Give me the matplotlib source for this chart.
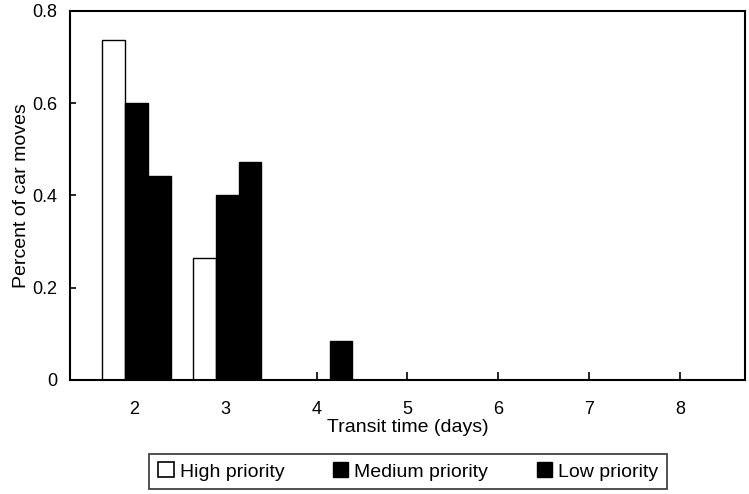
import matplotlib
matplotlib.use("Agg")
import matplotlib.pyplot as plt
import numpy as np
from matplotlib.patches import Patch

plt.rcParams['font.family'] = ['Liberation Sans', 'DejaVu Sans']

days = [2, 3, 4, 5, 6, 7, 8]
high = [0.737, 0.265, 0, 0, 0, 0, 0]
medium = [0.600, 0.400, 0, 0, 0, 0, 0]
low = [0.443, 0.472, 0.085, 0, 0, 0, 0]
yticks = [0, 0.2, 0.4, 0.6, 0.8]
ytick_labels = ["0", "0.2", "0.4", "0.6", "0.8"]
series_names = ["High priority", "Medium priority", "Low priority"]

fig = plt.figure(figsize=(7.49, 4.94), dpi=100)
ax = fig.add_axes([0.0935, 0.2308, 0.901, 0.747])

x = np.array(days, dtype=float) + 0.02
w = 0.25
ax.bar(x - w, high, width=w, color='white', edgecolor='black', linewidth=1.0)
ax.bar(x, medium, width=w, color='black', edgecolor='black', linewidth=1.0)
ax.bar(x + w, low, width=w, color='black', edgecolor='black', linewidth=1.0)

ax.set_xlim(1.29, 8.71)
ax.set_ylim(0, 0.8)
ax.set_xticks(days)
ax.set_xticklabels([str(d) for d in days], fontsize=13)
ax.set_yticks(yticks)
ax.set_yticklabels(ytick_labels, fontsize=13)
ax.tick_params(axis='x', direction='in', length=6, width=1.2, pad=15)
ax.tick_params(axis='y', direction='in', length=4, width=1.2, pad=9)
for s in ax.spines.values():
    s.set_linewidth(1.5)

ax.set_xlabel("Transit time (days)", fontsize=14, labelpad=1)
ax.set_ylabel("Percent of car moves", fontsize=14, labelpad=2)

handles = [Patch(facecolor='white', edgecolor='black', linewidth=1.2),
           Patch(facecolor='black', edgecolor='black'),
           Patch(facecolor='black', edgecolor='black')]
leg = fig.legend(handles, series_names, loc='center', bbox_to_anchor=(0.545, 0.0455),
                 ncol=3, fontsize=14, frameon=True, fancybox=False,
                 handlelength=0.8, handleheight=0.8, handletextpad=0.3,
                 columnspacing=2.5, borderpad=0.45, edgecolor='black')
leg.get_frame().set_linewidth(1.2)

fig.savefig("out.png", dpi=100)
